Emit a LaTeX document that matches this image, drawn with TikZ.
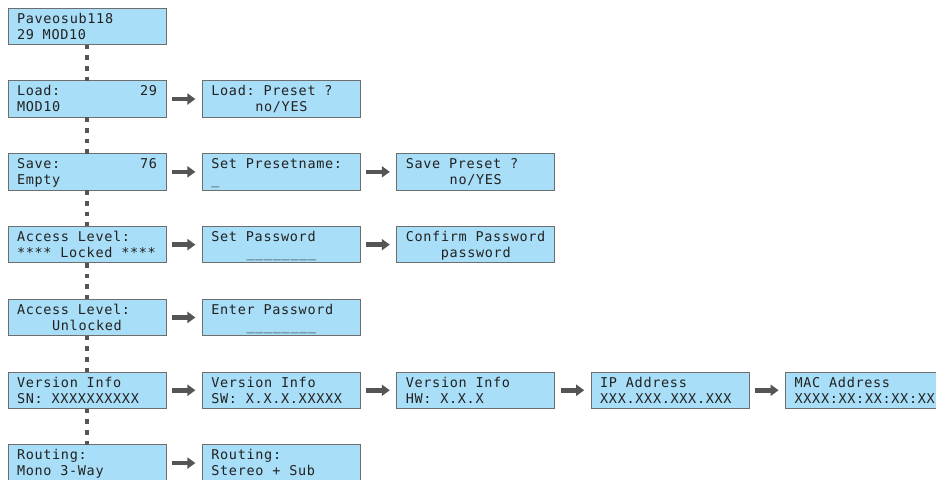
\documentclass[tikz,border=0pt]{standalone}
\usepackage{fontspec}
\newfontfamily\lcdfont[LetterSpace=5]{DejaVu Sans Mono}
\usetikzlibrary{arrows.meta,calc}
\definecolor{lcdfill}{HTML}{A8DEF7}
\definecolor{lcdedge}{HTML}{6E6E6E}
\definecolor{lcdtext}{HTML}{222222}
\definecolor{conn}{HTML}{555555}
\tikzset{
  lcd/.style={draw=lcdedge, fill=lcdfill, line width=1pt, minimum width=158pt,
    minimum height=36.5pt, inner sep=0pt, outer sep=0pt},
  txt/.style={text=lcdtext, font=\lcdfont\fontsize{13.5}{14}\selectfont\frenchspacing,
    inner sep=0pt, outer sep=0pt},
  arr/.style={draw=conn, line width=4.5pt, -{Triangle[length=8pt,width=11pt]},
    shorten <=6pt, shorten >=7pt},
  vdots/.style={draw=conn, line width=4pt, dash pattern=on 4.7pt off 6pt},
}
% box with first line left
\newcommand\lcdbox[4]{%
  \node[lcd] (#1) at (#2,#3) {};
  \node[txt,anchor=base west] (#1-a) at ($(#1.north west)+(9,15)$) {#4};}
\newcommand\lineL[2]{\node[txt,anchor=base west] (#1-b) at ($(#1.north west)+(9,31)$) {#2};}
\newcommand\lineC[2]{\node[txt,anchor=base] (#1-b) at ($(#1.north)+(0,31)$) {#2};}
\newcommand\numR[2]{\node[txt,anchor=base east] (#1-n) at ($(#1.north east)+(-9,15)$) {#2};}
\begin{document}
\begin{tikzpicture}[x=1pt,y=-1pt]
\useasboundingbox (0,0) rectangle (936,479);
\fill[white] (0,0) rectangle (936,479);
\clip (0,0) rectangle (936,479);
% columns centres: 87, 281.4, 475.8, 670.2, 864.6 ; rows centres top+18.25
\lcdbox{a1}{87}{26.25}{Paveosub118}\lineL{a1}{29 MOD10}

\lcdbox{b1}{87}{99.05}{Load:}\numR{b1}{29}\lineL{b1}{MOD10}
\lcdbox{b2}{281.4}{99.05}{Load: Preset ?}\lineC{b2}{no/YES}

\lcdbox{c1}{87}{171.85}{Save:}\numR{c1}{76}\lineL{c1}{Empty}
\lcdbox{c2}{281.4}{171.85}{Set Presetname:}\lineL{c2}{\_}
\lcdbox{c3}{475.8}{171.85}{Save Preset ?}\lineC{c3}{no/YES}

\lcdbox{d1}{87}{244.65}{Access Level:}\lineL{d1}{**** Locked ****}
\lcdbox{d2}{281.4}{244.65}{Set Password}\lineC{d2}{\_\_\_\_\_\_\_\_}
\lcdbox{d3}{475.8}{244.65}{Confirm Password}\lineC{d3}{password}

\lcdbox{e1}{87}{317.45}{Access Level:}\lineC{e1}{Unlocked}
\lcdbox{e2}{281.4}{317.45}{Enter Password}\lineC{e2}{\_\_\_\_\_\_\_\_}

\lcdbox{f1}{87}{390.25}{Version Info}\lineL{f1}{SN: XXXXXXXXXX}
\lcdbox{f2}{281.4}{390.25}{Version Info}\lineL{f2}{SW: X.X.X.XXXXX}
\lcdbox{f3}{475.8}{390.25}{Version Info}\lineL{f3}{HW: X.X.X}
\lcdbox{f4}{670.2}{390.25}{IP Address}\lineL{f4}{XXX.XXX.XXX.XXX}
\lcdbox{f5}{864.6}{390.25}{MAC Address}\lineL{f5}{XXXX:XX:XX:XX:XX}

\lcdbox{g1}{87}{463.05}{Routing:}\lineL{g1}{Mono 3-Way}
\lcdbox{g2}{281.4}{463.05}{Routing:}\lineL{g2}{Stereo + Sub}

% vertical dotted chain
\draw[vdots] (a1.south) -- (b1.north);
\draw[vdots] (b1.south) -- (c1.north);
\draw[vdots] (c1.south) -- (d1.north);
\draw[vdots] (d1.south) -- (e1.north);
\draw[vdots] (e1.south) -- (f1.north);
\draw[vdots] (f1.south) -- (g1.north);

% arrows
\draw[arr] (b1.east) -- (b2.west);
\draw[arr] (c1.east) -- (c2.west);
\draw[arr] (c2.east) -- (c3.west);
\draw[arr] (d1.east) -- (d2.west);
\draw[arr] (d2.east) -- (d3.west);
\draw[arr] (e1.east) -- (e2.west);
\draw[arr] (f1.east) -- (f2.west);
\draw[arr] (f2.east) -- (f3.west);
\draw[arr] (f3.east) -- (f4.west);
\draw[arr] (f4.east) -- (f5.west);
\draw[arr] (g1.east) -- (g2.west);
\end{tikzpicture}
\end{document}
